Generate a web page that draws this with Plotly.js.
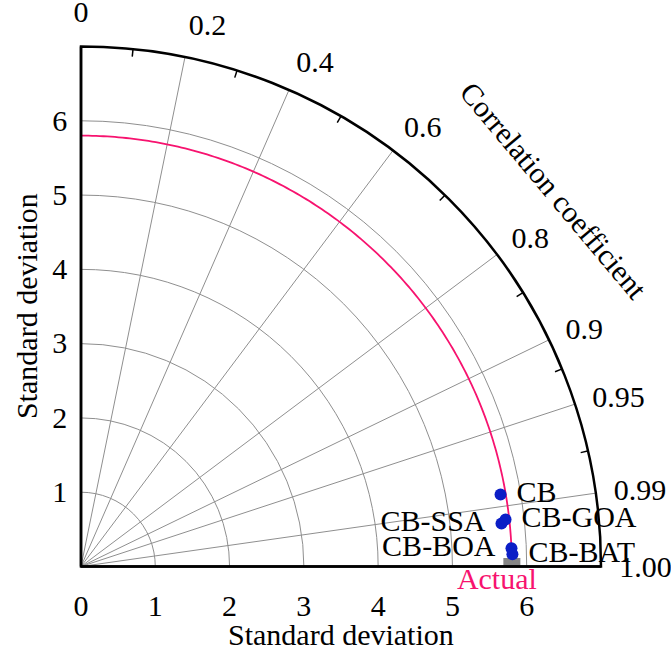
<!DOCTYPE html>
<html>
<head>
<meta charset="utf-8">
<script src="https://cdn.plot.ly/plotly-3.0.1.min.js"></script>
<style>html,body{margin:0;padding:0;background:#fff;}#chart{width:671px;height:651px;}</style>
</head>
<body>
<div id="chart"></div>
<script>
// ---- data ----
const stdTicks = [0, 1, 2, 3, 4, 5, 6];
const stdTickLabels = ['0', '1', '2', '3', '4', '5', '6'];
const stdLeftTicks = [1, 2, 3, 4, 5, 6];
const stdLeftLabels = ['1', '2', '3', '4', '5', '6'];
const corrMajor = [0, 0.2, 0.4, 0.6, 0.8, 0.9, 0.95, 0.99, 1.0];
const corrMajorLabels = ['0', '0.2', '0.4', '0.6', '0.8', '0.9', '0.95', '0.99', '1.00'];
const corrMinor = [0.1, 0.3, 0.5, 0.7, 0.85, 0.925, 0.975];
const models = ['CB', 'CB-SSA', 'CB-GOA', 'CB-BOA', 'CB-BAT'];
const modelStd = [5.73, 5.69, 5.75, 5.80, 5.81];
const modelCorr = [0.9856, 0.9948, 0.9939, 0.9991, 0.9996];
const modelLabelSide = ['middle right', 'middle left', 'middle right', 'middle left', 'middle right'];
const refName = 'Actual';
const refStd = 5.8;
const refCorr = 1.0;
const stdMax = 7;

// ---- helpers ----
const deg = c => Math.acos(Math.min(1, c)) * 180 / Math.PI;
const FONT = 'Liberation Serif, Times New Roman, serif';
const NB = '\u00A0';
const arcTheta = [];
for (let t = 0; t <= 90; t += 0.5) arcTheta.push(t);
const padLabel = (s, side) => side.indexOf('right') >= 0 ? NB + s : s + NB;

const traces = [
  { // anchor for grid subplot (drawn beneath)
    type: 'scatterpolar', subplot: 'polar', mode: 'markers',
    r: [0], theta: [0], marker: { opacity: 0 }, hoverinfo: 'skip', showlegend: false
  },
  { // reference std arc
    type: 'scatterpolar', subplot: 'polar2', mode: 'lines',
    r: arcTheta.map(() => refStd), theta: arcTheta,
    line: { color: '#f7136f', width: 1.8 }, hoverinfo: 'skip', showlegend: false
  },
  { // reference marker (grey square)
    type: 'scatterpolar', subplot: 'polar2', mode: 'markers',
    r: [refStd], theta: [deg(refCorr)], cliponaxis: true,
    marker: { symbol: 'square', size: 17, color: '#858585' },
    hoverinfo: 'skip', showlegend: false
  },
  { // reference label
    type: 'scatterpolar', subplot: 'polar2', mode: 'text',
    r: [refStd], theta: [deg(refCorr)], text: [refName + NB + NB + NB + NB], cliponaxis: false,
    textposition: 'bottom center',
    textfont: { family: FONT, size: 30, color: '#f7136f' },
    hoverinfo: 'skip', showlegend: false
  },
  { // models
    type: 'scatterpolar', subplot: 'polar2', mode: 'markers+text',
    r: modelStd, theta: modelCorr.map(deg),
    text: models.map((m, i) => padLabel(m, modelLabelSide[i])),
    textposition: modelLabelSide, cliponaxis: false,
    marker: { symbol: 'circle', size: 12, color: '#0b1ec6' },
    textfont: { family: FONT, size: 30, color: '#000' },
    showlegend: false
  },
  { // anchor for left-axis / minor-tick subplot
    type: 'scatterpolar', subplot: 'polar3', mode: 'markers',
    r: [0], theta: [0], marker: { opacity: 0 }, hoverinfo: 'skip', showlegend: false
  }
];

const tickFont = { family: FONT, size: 30, color: '#000' };
const layout = {
  width: 671, height: 651,
  margin: { l: 81, r: 70, t: 46, b: 84 },
  paper_bgcolor: '#fff',
  showlegend: false,
  // background subplot: grid lines (major correlation rays, std arcs)
  polar: {
    domain: { x: [0, 1], y: [0, 1] },
    sector: [0, 90],
    bgcolor: '#fff',
    radialaxis: {
      range: [0, stdMax], angle: 0, tickmode: 'array', tickvals: stdTicks,
      showticklabels: false, ticks: '', showline: false,
      showgrid: true, gridcolor: '#8f8f8f', gridwidth: 1
    },
    angularaxis: {
      direction: 'counterclockwise', rotation: 0, thetaunit: 'degrees',
      tickmode: 'array', tickvals: corrMajor.map(deg),
      showticklabels: false, ticks: '', showline: false,
      showgrid: true, gridcolor: '#8f8f8f', gridwidth: 1
    }
  },
  // foreground subplot: bottom axis, outer arc, correlation labels, data
  polar2: {
    domain: { x: [0, 1], y: [0, 1] },
    sector: [0, 90],
    bgcolor: 'rgba(0,0,0,0)',
    radialaxis: {
      range: [0, stdMax], angle: 0, side: 'clockwise',
      tickmode: 'array', tickvals: stdTicks, ticktext: stdTickLabels,
      ticks: 'outside', ticklen: 12, tickcolor: 'rgba(0,0,0,0)',
      showline: true, linecolor: '#000', linewidth: 2.5,
      showgrid: false, tickfont: tickFont
    },
    angularaxis: {
      direction: 'counterclockwise', rotation: 0, thetaunit: 'degrees',
      tickmode: 'array', tickvals: corrMajor.map(deg), ticktext: corrMajorLabels,
      ticks: 'outside', ticklen: 11, tickcolor: 'rgba(0,0,0,0)',
      showline: true, linecolor: '#000', linewidth: 2.5,
      showgrid: false, tickfont: tickFont
    }
  },
  // third subplot: left (vertical) std axis and minor correlation ticks
  polar3: {
    domain: { x: [0, 1], y: [0, 1] },
    sector: [0, 90],
    bgcolor: 'rgba(0,0,0,0)',
    radialaxis: {
      range: [0, stdMax], angle: 90, side: 'counterclockwise',
      tickmode: 'array', tickvals: stdLeftTicks, ticktext: stdLeftLabels,
      tickangle: 90,
      ticks: 'outside', ticklen: 2, tickcolor: 'rgba(0,0,0,0)',
      showline: true, linecolor: '#000', linewidth: 2.5,
      showgrid: false, tickfont: tickFont
    },
    angularaxis: {
      direction: 'counterclockwise', rotation: 0, thetaunit: 'degrees',
      tickmode: 'array', tickvals: corrMinor.map(deg),
      ticks: 'inside', ticklen: 7, tickwidth: 1.5, tickcolor: '#000',
      showticklabels: false, showline: false, showgrid: false
    }
  },
  annotations: [
    { text: 'Correlation coefficient', xref: 'paper', yref: 'paper',
      x: (554 - 81) / 520, y: (567 - 190) / 521, xanchor: 'center', yanchor: 'middle',
      textangle: 50, showarrow: false, font: { family: FONT, size: 30, color: '#000' } },
    { text: 'Standard deviation', xref: 'paper', yref: 'paper',
      x: 0.5, y: (567 - 634) / 521, xanchor: 'center', yanchor: 'middle',
      showarrow: false, font: { family: FONT, size: 30, color: '#000' } },
    { text: 'Standard deviation', xref: 'paper', yref: 'paper',
      x: (26 - 81) / 520, y: (567 - 306) / 521, xanchor: 'center', yanchor: 'middle',
      textangle: -90, showarrow: false, font: { family: FONT, size: 30, color: '#000' } }
  ]
};

Plotly.newPlot('chart', traces, layout, { staticPlot: true, displayModeBar: false });
</script>
</body>
</html>
